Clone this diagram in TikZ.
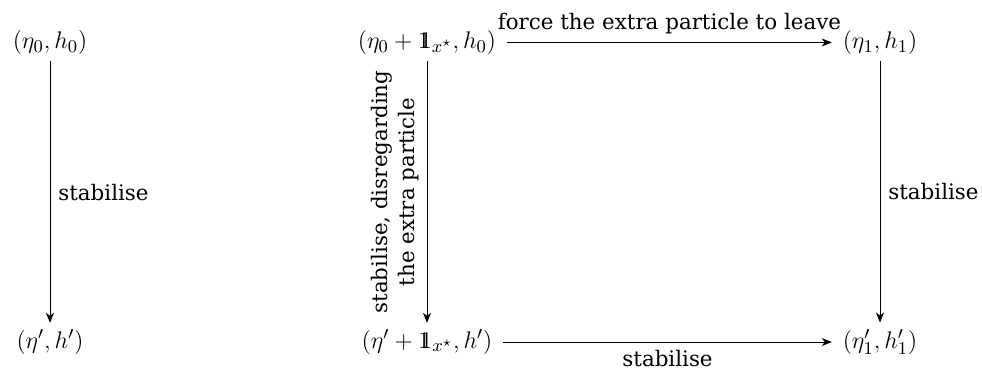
\documentclass[tikz,border=0pt,11pt]{standalone}
\usepackage{amsmath, amssymb}
\usepackage[no-math]{fontspec}
\setmainfont{DejaVu Serif}
\DeclareMathSizes{11.8}{11.8}{9}{7}
\usepackage{tikz}
\usetikzlibrary{arrows.meta}
\newcommand{\indic}{\mathrm{1}\mkern-7mu\mathrm{1}}
\tikzset{
  state/.style={inner xsep=5.3pt, inner ysep=3.2pt, font=\fontsize{11.8}{14}\selectfont},
  lbl/.style={inner sep=4pt, font=\fontsize{10.7}{13.4}\selectfont},
  arr/.style={-{Stealth[length=5pt,width=4pt,inset=1.5pt]}}
}

\begin{document}
\begin{tikzpicture}[x=0.5pt,y=-0.5pt]
\useasboundingbox (0,0) rectangle (982,373);
% left column
\node[state] (s0) at (50,42.5) {$(\eta_0,h_0)$};
\node[state] (s0p) at (50,342) {$(\eta',h')$};
\draw[arr] (s0)--(s0p) node[midway,right,lbl]{stabilise};
% square
\node[state] (a) at (427,42.5) {$(\eta_0+\indic_{x^\star},h_0)$};
\node[state] (b) at (880,42.5) {$(\eta_1,h_1)$};
\node[state] (c) at (427,342) {$(\eta'+\indic_{x^\star},h')$};
\node[state] (d) at (880,342) {$(\eta_1',h_1')$};
\draw[arr] (a)--(b) node[midway,above,lbl]{force the extra particle to leave};
\draw[arr] (a)--(c) node[midway,anchor=south,rotate=90,align=center,lbl]{stabilise, disregarding\\the extra particle};
\draw[arr] (b)--(d) node[midway,right,lbl]{stabilise};
\draw[arr] (c)--(d) node[midway,below,lbl]{stabilise};
\end{tikzpicture}
\end{document}
